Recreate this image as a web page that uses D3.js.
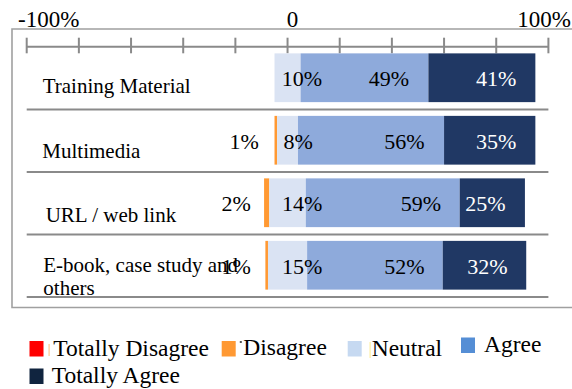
<!DOCTYPE html>
<html>
<head>
<meta charset="utf-8">
<script src="https://cdn.jsdelivr.net/npm/d3@7"></script>
<style>
  html, body { margin: 0; padding: 0; background: #fff; }
  svg { display: block; }
  text { font-family: "Liberation Serif", "Times New Roman", serif; }
</style>
</head>
<body>
<svg id="chart" width="572" height="389"></svg>
<script>
// ---- data ----
const categories = ["Training Material", "Multimedia", "URL / web link", "E-book, case study and others"];
const totallyDisagree = [0, 0, 0, 0];
const disagree = [0, 1, 2, 1];
const neutral = [10, 8, 14, 15];
const agree = [49, 56, 59, 52];
const totallyAgree = [41, 35, 25, 32];
const seriesNames = ["Totally Disagree", "Disagree", "Neutral", "Agree", "Totally Agree"];
const tickValues = [-100, -80, -60, -40, -20, 0, 20, 40, 60, 80, 100];
const tickLabels = ["-100%", "0", "100%"];
// label anchor positions (in % units on the axis)
const disagreeLabelAt = [null, -16.6, -19.7, -19.7];
const neutralLabelAt = [5.5, 4.1, 5.6, 5.6];
const agreeLabelAt = [38.9, 44.8, 51.1, 44.8];
const totallyAgreeLabelAt = [80.0, 80.0, 75.9, 76.6];

// ---- styles / layout ----
const barColors = { td: "#ff0000", d: "#ff9933", n: "#dae3f3", a: "#8eaadb", ta: "#203864" };
const legendColors = ["#ff0000", "#ff9933", "#c6d9f1", "#558ed5", "#10243f"];

const svg = d3.select("#chart");
const x = d3.scaleLinear().domain([-100, 100]).range([26.7, 548.4]);
const y = d3.scaleBand().domain(categories).range([46.5, 296.5]).paddingInner(0.22).paddingOuter(0.11);

// frame
svg.append("path")
  .attr("d", "M580,29 H12 V307.5 H580")
  .attr("fill", "none").attr("stroke", "#a0a0a0").attr("stroke-width", 1.6);

// axis
const axisY = 46.7;
svg.append("line").attr("x1", x(-100)).attr("x2", x(100)).attr("y1", axisY).attr("y2", axisY)
  .attr("stroke", "#8a8a8a").attr("stroke-width", 2);
svg.selectAll("line.tick").data(tickValues).enter().append("line").attr("class", "tick")
  .attr("x1", d => x(d)).attr("x2", d => x(d)).attr("y1", 37.7).attr("y2", 53.3)
  .attr("stroke", "#8a8a8a").attr("stroke-width", 2);

const tickLabelVals = [-100, 0, 100];
const tickAnchors = ["start", "middle", "end"];
const tickDx = [-8.7, 5, 22.5];
svg.selectAll("text.ticklab").data(tickLabels).enter().append("text").attr("class", "ticklab")
  .attr("x", (d, i) => x(tickLabelVals[i]) + tickDx[i]).attr("y", 26.7)
  .attr("text-anchor", (d, i) => tickAnchors[i])
  .attr("font-size", 23).attr("fill", "#000").text(d => d);

// separators
svg.selectAll("line.sep").data(categories).enter().append("line").attr("class", "sep")
  .attr("x1", x(-100)).attr("x2", x(100))
  .attr("y1", d => y(d) + y.bandwidth() + y.step() * 0.11 + 0.5)
  .attr("y2", d => y(d) + y.bandwidth() + y.step() * 0.11 + 0.5)
  .attr("stroke", "#8a8a8a").attr("stroke-width", 2);

// segments
const segs = [];
categories.forEach((c, i) => {
  let start = -(totallyDisagree[i] + disagree[i] + neutral[i] / 2);
  const parts = [
    ["td", totallyDisagree[i]], ["d", disagree[i]], ["n", neutral[i]], ["a", agree[i]], ["ta", totallyAgree[i]]
  ];
  parts.forEach(([k, v]) => {
    if (v > 0) segs.push({ cat: c, key: k, x0: start, x1: start + v });
    start += v;
  });
});
svg.selectAll("rect.seg").data(segs).enter().append("rect").attr("class", "seg")
  .attr("x", d => x(d.x0)).attr("width", d => x(d.x1) - x(d.x0))
  .attr("y", d => y(d.cat)).attr("height", y.bandwidth())
  .attr("fill", d => barColors[d.key]);

// value labels
const labels = [];
categories.forEach((c, i) => {
  if (disagreeLabelAt[i] !== null) labels.push({ cat: c, at: disagreeLabelAt[i], v: disagree[i], col: "#000" });
  labels.push({ cat: c, at: neutralLabelAt[i], v: neutral[i], col: "#000" });
  labels.push({ cat: c, at: agreeLabelAt[i], v: agree[i], col: "#000" });
  labels.push({ cat: c, at: totallyAgreeLabelAt[i], v: totallyAgree[i], col: "#fff" });
});
svg.selectAll("text.val").data(labels).enter().append("text").attr("class", "val")
  .attr("x", d => x(d.at)).attr("y", d => y(d.cat) + y.bandwidth() / 2 + 8.6)
  .attr("text-anchor", "middle").attr("font-size", 22).attr("fill", d => d.col)
  .text(d => d.v + "%");

// category labels
const catLayout = [
  { x: 42.7, dy: [15.5] },
  { x: 42.3, dy: [18.2] },
  { x: 45.7, dy: [19.4] },
  { x: 43.3, dy: [7.2, 30.2] }
];
const catLines = [["Training Material"], ["Multimedia"], ["URL / web link"], ["E-book, case study and", "others"]];
categories.forEach((c, i) => {
  const cy = y(c) + y.bandwidth() / 2;
  catLines[i].forEach((ln, j) => {
    svg.append("text").attr("x", catLayout[i].x).attr("y", cy + catLayout[i].dy[j])
      .attr("font-size", 21).attr("fill", "#000").text(ln);
  });
});

// legend
const legendLayout = [
  { sx: 29.5, sy: 341, tx: 53.3, ty: 355.5 },
  { sx: 221.7, sy: 341, tx: 243.3, ty: 355 },
  { sx: 347.7, sy: 341, tx: 371.7, ty: 355.5 },
  { sx: 461, sy: 337.5, tx: 484, ty: 351.5 },
  { sx: 29.5, sy: 368.5, tx: 51.7, ty: 383 }
];
seriesNames.forEach((s, i) => {
  const L = legendLayout[i];
  svg.append("rect").attr("x", L.sx).attr("y", L.sy).attr("width", 14).attr("height", 15.5)
    .attr("fill", legendColors[i]);
  svg.append("text").attr("x", L.tx).attr("y", L.ty).attr("font-size", 23.5).attr("fill", "#000").text(s);
});
// small artefacts next to legend entries
svg.append("rect").attr("x", 48.5).attr("y", 344).attr("width", 1.2).attr("height", 12).attr("fill", "#ffb060").attr("opacity", 0.7);
svg.append("rect").attr("x", 239.8).attr("y", 341).attr("width", 2).attr("height", 2).attr("fill", "#555");
svg.append("rect").attr("x", 369.5).attr("y", 342).attr("width", 1.2).attr("height", 16).attr("fill", "#fff0a0");
</script>
</body>
</html>
